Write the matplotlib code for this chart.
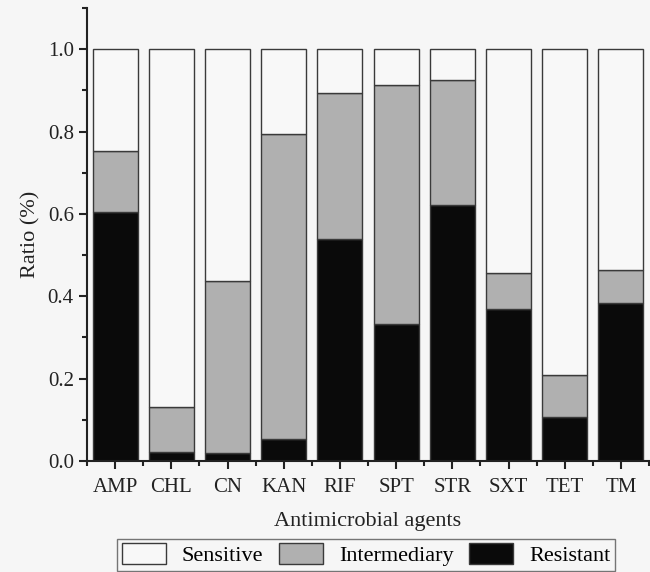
import matplotlib
matplotlib.use("Agg")
import matplotlib.pyplot as plt
import numpy as np
from matplotlib.ticker import MultipleLocator
from matplotlib.patches import Patch

categories = ["AMP", "CHL", "CN", "KAN", "RIF", "SPT", "STR", "SXT", "TET", "TM"]
resistant = [0.604, 0.023, 0.019, 0.054, 0.539, 0.333, 0.622, 0.369, 0.108, 0.384]
intermediary_top = [0.753, 0.132, 0.438, 0.794, 0.894, 0.912, 0.925, 0.457, 0.209, 0.463]
intermediary = [t - r for t, r in zip(intermediary_top, resistant)]
sensitive = [1.0 - t for t in intermediary_top]

plt.rcParams['font.family'] = ['Liberation Serif', 'DejaVu Serif']

bg = '#f6f6f6'
fig = plt.figure(figsize=(6.5, 5.72), dpi=100, facecolor=bg)
ax = fig.add_axes([87/650, 1-461/572, (649-87)/650, (461-8)/572])
ax.set_facecolor(bg)

x = np.arange(len(categories))
ec = '#3a3a3a'
w = 0.8
ax.bar(x, resistant, w, color='#0a0a0a', edgecolor=ec, linewidth=1.0)
ax.bar(x, intermediary, w, bottom=resistant, color='#b0b0b0', edgecolor=ec, linewidth=1.0)
ax.bar(x, sensitive, w, bottom=intermediary_top, color='#f8f8f8', edgecolor=ec, linewidth=1.0)

ax.set_xlim(-0.5, 9.5)
ax.set_ylim(0, 1.10)
ax.set_xticks(x)
ax.set_xticklabels(categories)
ax.xaxis.set_minor_locator(MultipleLocator(1, offset=0.5))
ax.yaxis.set_major_locator(MultipleLocator(0.2))
ax.yaxis.set_minor_locator(MultipleLocator(0.1))
ax.yaxis.set_major_formatter(matplotlib.ticker.FormatStrFormatter('%.1f'))
for s in ['top', 'right']:
    ax.spines[s].set_visible(False)
for s in ['left', 'bottom']:
    ax.spines[s].set_linewidth(1.5)
    ax.spines[s].set_color('#222222')
ax.tick_params(axis='both', which='major', direction='out', length=6, width=1.5,
               labelsize=15, colors='#222222')
ax.tick_params(axis='x', which='major', pad=6)
ax.tick_params(axis='both', which='minor', direction='out', length=3.5, width=1.5, colors='#222222')
ax.set_ylabel('Ratio (%)', fontsize=16, color='#222222', labelpad=5)
ax.set_xlabel('Antimicrobial agents', fontsize=16, color='#222222', labelpad=11)

handles = [Patch(facecolor='#f8f8f8', edgecolor=ec, label='Sensitive'),
           Patch(facecolor='#b0b0b0', edgecolor=ec, label='Intermediary'),
           Patch(facecolor='#0a0a0a', edgecolor=ec, label='Resistant')]
leg = fig.legend(handles=handles, loc='upper center', bbox_to_anchor=(366/650, 1-539/572),
                 ncol=3, fontsize=16, frameon=True, fancybox=False, edgecolor='#555555',
                 handlelength=2.0, handleheight=1.05, columnspacing=0.7, handletextpad=0.7,
                 borderpad=0.2, borderaxespad=0)
leg.get_frame().set_facecolor(bg)
leg.get_frame().set_linewidth(1.0)

fig.savefig('out.png', dpi=100, facecolor=bg)
